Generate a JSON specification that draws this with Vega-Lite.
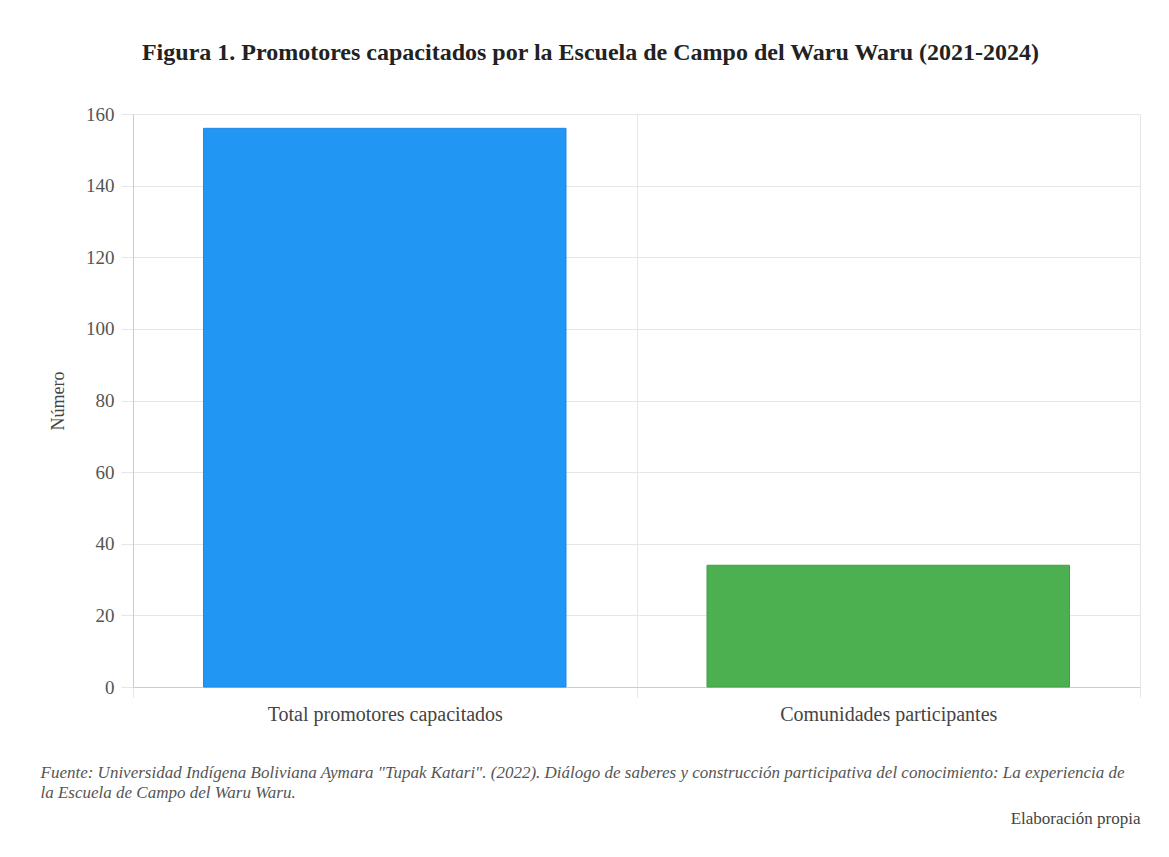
{
  "$schema": "https://vega.github.io/schema/vega-lite/v6.json",
  "width": 1007,
  "height": 573,
  "autosize": {"type": "none"},
  "padding": {"left": 133, "top": 114, "right": 29, "bottom": 170},
  "background": "white",
  "title": {
    "text": "Figura 1. Promotores capacitados por la Escuela de Campo del Waru Waru (2021-2024)",
    "font": "Liberation Serif",
    "fontSize": 24,
    "fontWeight": "bold",
    "color": "#222222",
    "anchor": "middle",
    "frame": "group",
    "baseline": "middle",
    "dx": -46,
    "offset": 28
  },
  "config": {
    "view": {"stroke": null},
    "font": "Liberation Serif"
  },
  "data": {
    "values": [
      {"categoria": "Total promotores capacitados", "valor": 156},
      {"categoria": "Comunidades participantes", "valor": 34}
    ]
  },
  "layer": [
    {
      "mark": {"type": "bar", "strokeWidth": 1, "width": {"band": 0.72}},
      "encoding": {
        "x": {
          "field": "categoria",
          "type": "nominal",
          "sort": null,
          "scale": {"paddingInner": 0, "paddingOuter": 0},
          "axis": {
            "tickBand": "extent",
            "grid": true,
            "gridColor": "#e6e6e6",
            "ticks": true,
            "tickSize": 10,
            "tickColor": "#e6e6e6",
            "domainColor": "#cccccc",
            "labelAngle": 0,
            "labelLimit": 0,
            "labelFont": "Liberation Serif",
            "labelFontSize": 20,
            "labelColor": "#444444",
            "labelPadding": 7,
            "title": [
              "Fuente: Universidad Indígena Boliviana Aymara \"Tupak Katari\". (2022). Diálogo de saberes y construcción participativa del conocimiento: La experiencia de",
              "la Escuela de Campo del Waru Waru."
            ],
            "titleFont": "Liberation Serif",
            "titleFontStyle": "italic",
            "titleFontWeight": "normal",
            "titleFontSize": 17,
            "titleColor": "#555555",
            "titleAlign": "left",
            "titleBaseline": "top",
            "titleLineHeight": 20,
            "titleX": -93,
            "titleY": 77
          }
        },
        "y": {
          "field": "valor",
          "type": "quantitative",
          "scale": {"domain": [0, 160], "nice": false},
          "axis": {
            "values": [0, 20, 40, 60, 80, 100, 120, 140, 160],
            "grid": true,
            "gridColor": "#e6e6e6",
            "tickSize": 12,
            "tickColor": "#e6e6e6",
            "domainColor": "#cccccc",
            "labelFont": "Liberation Serif",
            "labelFontSize": 19,
            "labelColor": "#555555",
            "labelPadding": 7,
            "title": "Número",
            "titleFont": "Liberation Serif",
            "titleFontSize": 18,
            "titleFontWeight": "normal",
            "titleColor": "#444444",
            "titleBaseline": "middle",
            "titleX": -75
          }
        },
        "color": {
          "field": "categoria",
          "type": "nominal",
          "scale": {
            "domain": ["Total promotores capacitados", "Comunidades participantes"],
            "range": ["#2196F3", "#4CAF50"]
          },
          "legend": null
        },
        "stroke": {
          "field": "categoria",
          "type": "nominal",
          "scale": {
            "domain": ["Total promotores capacitados", "Comunidades participantes"],
            "range": ["#1E88E5", "#43A047"]
          },
          "legend": null
        }
      }
    },
    {
      "mark": {"type": "rule", "opacity": 0},
      "encoding": {
        "y": {
          "field": "valor",
          "type": "quantitative",
          "scale": {"domain": [0, 160], "nice": false},
          "axis": {
            "orient": "right",
            "labels": false,
            "ticks": false,
            "domain": false,
            "grid": false,
            "title": "Elaboración propia",
            "titleAngle": 0,
            "titleAlign": "right",
            "titleBaseline": "middle",
            "titleX": 0,
            "titleY": 704,
            "titleFont": "Liberation Serif",
            "titleFontSize": 17,
            "titleFontWeight": "normal",
            "titleColor": "#444444"
          }
        }
      }
    }
  ],
  "resolve": {"axis": {"y": "independent"}}
}
